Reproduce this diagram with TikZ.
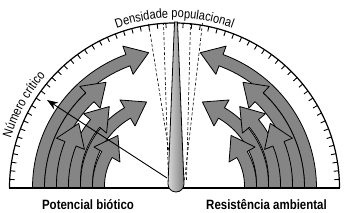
\documentclass[tikz,border=0pt]{standalone}
\usepackage{fontspec}
\setmainfont{Liberation Sans}
\newfontfamily\condfont[FakeStretch=0.85]{Liberation Sans}
\usetikzlibrary{calc,arrows.meta,decorations.text}

\begin{document}
\begin{tikzpicture}[x=1pt,y=1pt,
    band/.style={draw=black,line width=0.8pt,fill=black!48,line join=round},
    dialtick/.style={line width=0.9pt},
    fan/.style={line width=0.6pt,dash pattern=on 3pt off 2pt}]

  \useasboundingbox (-174.5,-25) rectangle (172.5,188);

  % curved arrows, left side and mirrored right side
  \foreach \side in {1,-1}{
    \begin{scope}[xscale=\side]
      \foreach \xo/\hh/\rr/\ang in {-136/0/136/110, -124/0/124/133, -88/4/82/120,
                                    -76/2/63/150, -100/8/88/140, -112/3/110/158}{
        \pgfmathsetmacro\ro{\rr+6}
        \pgfmathsetmacro\ri{\rr-6}
        \pgfmathsetmacro\ho{\rr+15}
        \pgfmathsetmacro\hi{\rr-15}
        \pgfmathsetmacro\dir{\ang-90}
        \coordinate (c) at (\xo+\rr,\hh);
        \draw[band] (\xo-6,0) -- (\xo-6,\hh) arc[start angle=180,end angle=\ang,radius=\ro]
          -- ($(c)+(\ang:\ho)$) -- ($(c)+(\ang:\rr)+(\dir:22)$) -- ($(c)+(\ang:\hi)$)
          -- ($(c)+(\ang:\ri)$) arc[start angle=\ang,end angle=180,radius=\ri]
          -- (\xo+6,0) -- cycle;
      }
    \end{scope}
  }

  % dial
  \draw[line width=1.2pt] (165,0) arc[start angle=0,end angle=180,radius=165];
  \foreach \a in {3,6,...,177}
    \draw[dialtick] (\a:165) -- (\a:160);
  \draw[line width=1.5pt] (-165,0) -- (165,0);

  \draw[fan] (-1,8) -- (-26,165);
  \draw[fan] (-6,8) -- (-11,165);
  \draw[fan] (12,8) -- (16,165);
  \draw[fan] (10,8) -- (28,165);

  % critical number
  \coordinate (pivot) at (-7.5,10);
  \coordinate (critico) at (-127.5,88);
  \draw[line width=0.9pt,-{Stealth[length=11pt,width=8pt]}] (pivot) -- (critico);

  % needle
  \draw[line width=0.8pt,left color=black!15,right color=black!50]
    (-6.5,4) -- (0,166) -- (3,166) -- (9.5,4) arc[start angle=0,end angle=-180,radius=8] -- cycle;

  \path[decorate,decoration={text along path,text align=center,
      text={|\condfont\fontsize{13}{15}\selectfont|Densidade populacional}}]
    (120:170) arc[start angle=120,end angle=60,radius=170];
  \path[decorate,decoration={text along path,text align=center,
      text={|\condfont\fontsize{13}{15}\selectfont|Número crítico}}]
    (166:171) arc[start angle=166,end angle=136,radius=171];

  \node[font=\condfont\bfseries\fontsize{13.5}{16}\selectfont,anchor=base] (potencial) at (-86.5,-22) {Potencial biótico};
  \node[font=\condfont\bfseries\fontsize{13.5}{16}\selectfont,anchor=base] (resistencia) at (92,-22) {Resistência ambiental};

\end{tikzpicture}
\end{document}
